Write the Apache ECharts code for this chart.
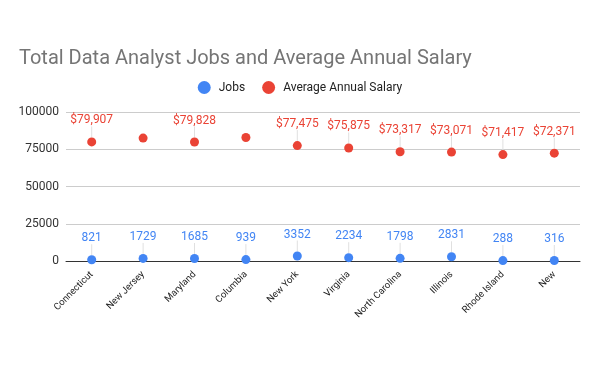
<!DOCTYPE html>
<html>
<head>
<meta charset="utf-8">
<script src="https://cdn.jsdelivr.net/npm/echarts@6/dist/echarts.min.js"></script>
<style>html,body{margin:0;padding:0;background:#fff}#c{width:600px;height:371px}</style>
</head>
<body>
<div id="c"></div>
<script>
var categories = ['Connecticut','New Jersey','Maryland','Columbia','New York','Virginia','North Carolina','Illinois','Rhode Island','New'];
var jobs = [821, 1729, 1685, 939, 3352, 2234, 1798, 2831, 288, 316];
var salary = [79907, 82500, 79828, 82900, 77475, 75875, 73317, 73071, 71417, 72371];
var hiddenSalaryLabels = ['New Jersey', 'Columbia'];
var yTicks = [0, 25000, 50000, 75000, 100000];

var chart = echarts.init(document.getElementById('c'), null, {renderer: 'canvas'});
var font = 'Roboto, Arial, sans-serif';
function fmtMoney(v) { return '$' + v.toLocaleString('en-US'); }

var salaryData = salary.map(function (v, i) {
  var d = {value: v};
  if (hiddenSalaryLabels.indexOf(categories[i]) >= 0) d.label = {show: false};
  return d;
});

chart.setOption({
  animation: false,
  textStyle: {fontFamily: font},
  title: {
    text: 'Total Data Analyst Jobs and Average Annual Salary',
    left: 14, top: 44,
    textStyle: {fontFamily: font, fontSize: 20, fontWeight: 'normal', color: '#757575'}
  },
  legend: {
    top: 76, left: 'center',
    icon: 'circle', itemWidth: 13, itemHeight: 13, itemGap: 17,
    textStyle: {fontFamily: font, fontSize: 12, color: '#222', padding: [0, 0, 0, 3]},
    data: ['Jobs', 'Average Annual Salary']
  },
  grid: {left: 66, right: 20, top: 112, bottom: 110, containLabel: false},
  xAxis: {
    type: 'category', data: categories, boundaryGap: true,
    axisLine: {lineStyle: {color: '#333', width: 1}},
    axisTick: {show: false},
    axisLabel: {rotate: 45, fontSize: 9.5, color: '#222', fontFamily: font, margin: 12, interval: 0}
  },
  yAxis: {
    type: 'value', min: yTicks[0], max: yTicks[yTicks.length - 1], interval: 25000,
    axisLine: {show: false}, axisTick: {show: false},
    axisLabel: {fontSize: 12, color: '#333', fontFamily: font, margin: 7,
      formatter: function (v) { return String(v); }},
    splitLine: {lineStyle: {color: '#cccccc'}}
  },
  series: [
    {
      name: 'Jobs', type: 'scatter', data: jobs, symbolSize: 9,
      itemStyle: {color: '#4285F4', opacity: 1},
      label: {show: true, position: 'top', distance: 2, fontSize: 12, color: '#4285F4', fontFamily: font},
      labelLayout: {dy: -9},
      labelLine: {show: true, lineStyle: {color: '#e0e0e0', width: 1}}
    },
    {
      name: 'Average Annual Salary', type: 'scatter', data: salaryData, symbolSize: 9,
      itemStyle: {color: '#EA4335', opacity: 1},
      label: {show: true, position: 'top', distance: 2, fontSize: 12, color: '#EA4335', fontFamily: font,
        formatter: function (p) { return fmtMoney(p.value); }},
      labelLayout: {dy: -9},
      labelLine: {show: true, lineStyle: {color: '#e0e0e0', width: 1}}
    }
  ]
});
</script>
</body>
</html>
